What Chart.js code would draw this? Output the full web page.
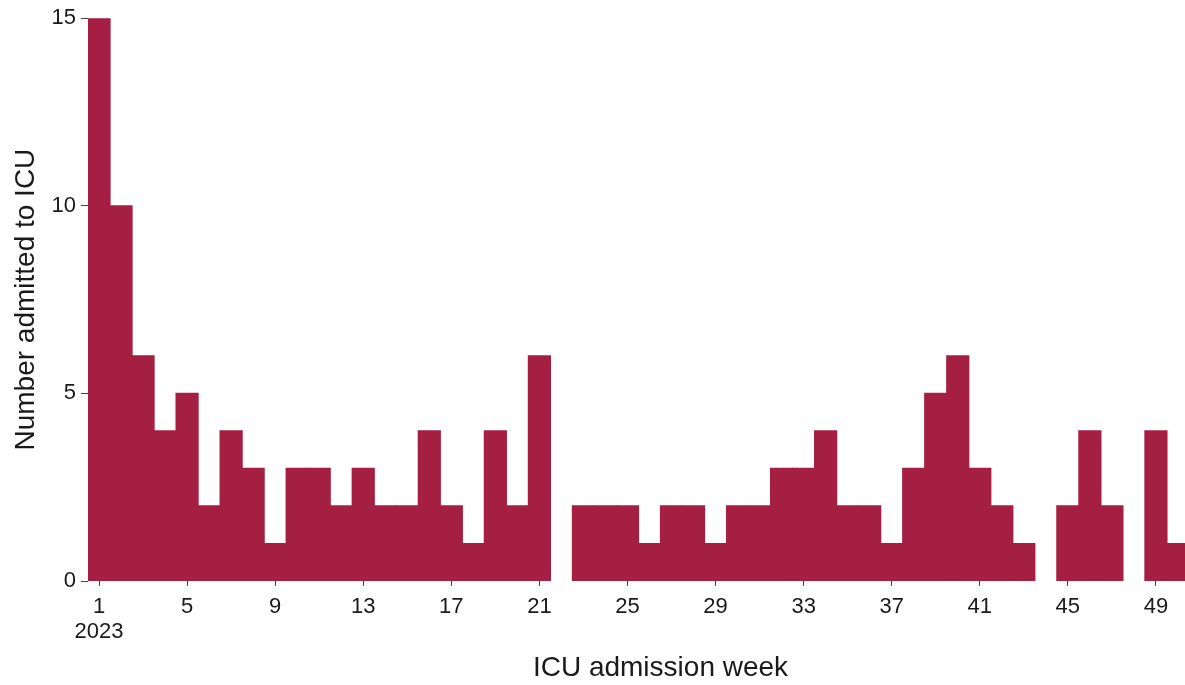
<!DOCTYPE html>
<html>
<head>
<meta charset="utf-8">
<script src="https://cdn.jsdelivr.net/npm/chart.js@4"></script>
<style>
  html, body { margin: 0; padding: 0; background: #fff; overflow: hidden; }
  #wrap { width: 1233px; height: 685px; }
</style>
</head>
<body>
<div id="wrap"><canvas id="icuChart" width="1233" height="685"></canvas></div>
<script>
// weekly ICU admissions, 2023 (weeks 51-52 are off the edge of the picture)
const weeks = [1, 2, 3, 4, 5, 6, 7, 8, 9, 10, 11, 12, 13, 14, 15, 16, 17, 18, 19, 20,
  21, 22, 23, 24, 25, 26, 27, 28, 29, 30, 31, 32, 33, 34, 35, 36, 37, 38, 39, 40,
  41, 42, 43, 44, 45, 46, 47, 48, 49, 50];
const admissions = [15, 10, 6, 4, 5, 2, 4, 3, 1, 3, 3, 2, 3, 2, 2, 4, 2, 1, 4, 2,
  6, 0, 2, 2, 2, 1, 2, 2, 1, 2, 2, 3, 3, 4, 2, 2, 1, 3, 5, 6,
  3, 2, 1, 0, 2, 4, 2, 0, 4, 1];
const xTicks = [1, 5, 9, 13, 17, 21, 25, 29, 33, 37, 41, 45, 49];
const yTicks = [0, 5, 10, 15];

const font = 'Liberation Sans, Arial, sans-serif';

const ctx = document.getElementById('icuChart').getContext('2d');
new Chart(ctx, {
  type: 'bar',
  data: {
    datasets: [{
      data: weeks.map((w, i) => ({ x: w, y: admissions[i] })),
      // empty weeks get no sliver on the baseline
      backgroundColor: c => (c.raw && c.raw.y === 0) ? 'rgba(0,0,0,0)' : '#a51f43',
      borderWidth: 0,
      inflateAmount: 0.6,
      barPercentage: 1,
      categoryPercentage: 1
    }]
  },
  options: {
    responsive: false,
    animation: false,
    devicePixelRatio: 1,
    layout: { padding: { top: 16, left: 0, right: 0, bottom: 0 } },
    plugins: { legend: { display: false }, tooltip: { enabled: false } },
    scales: {
      x: {
        type: 'linear',
        offset: false,
        min: 0.5,
        max: 52.5,
        afterBuildTicks: scale => { scale.ticks = xTicks.map(v => ({ value: v })); },
        afterFit: scale => { scale.height = 104; },
        border: { display: false },
        grid: { offset: false, drawOnChartArea: false, drawTicks: true, tickLength: 5, color: '#444' },
        ticks: {
          autoSkip: false,
          maxRotation: 0,
          padding: 8,
          color: '#1a1a1a',
          font: { family: font, size: 22, lineHeight: 1.15 },
          callback: v => v === 1 ? ['1', '2023'] : String(v)
        },
        title: {
          display: true,
          text: 'ICU admission week',
          color: '#1a1a1a',
          font: { family: font, size: 28, lineHeight: 1.2 },
          padding: { top: 0, bottom: 0 }
        }
      },
      y: {
        min: 0,
        max: 15,
        afterBuildTicks: scale => { scale.ticks = yTicks.map(v => ({ value: v })); },
        afterFit: scale => { scale.width = 88; },
        border: { display: false },
        grid: { drawOnChartArea: false, drawTicks: true, tickLength: 7, color: '#444' },
        ticks: {
          padding: 5,
          color: '#1a1a1a',
          font: { family: font, size: 22 }
        },
        title: {
          display: true,
          text: 'Number admitted to ICU',
          color: '#1a1a1a',
          font: { family: font, size: 28, lineHeight: 1.2 },
          padding: { top: 9, bottom: 0 }
        }
      }
    }
  }
});
</script>
</body>
</html>
